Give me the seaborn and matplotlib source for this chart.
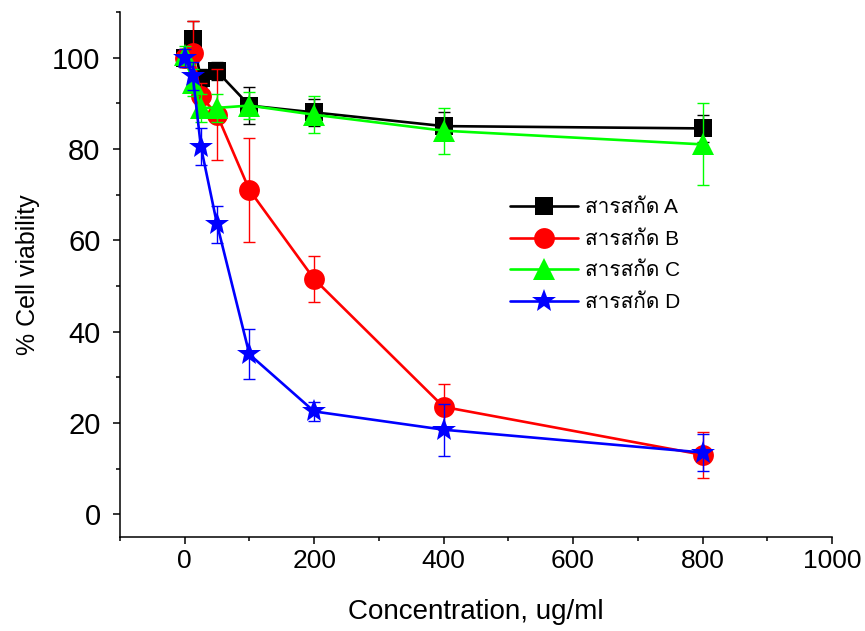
import numpy as np
import pandas as pd
import matplotlib
matplotlib.use("Agg")
import matplotlib.pyplot as plt
from matplotlib import font_manager as fm
from matplotlib.ticker import MultipleLocator
from matplotlib.ft2font import FT2Font
import seaborn as sns

# Data
conc = [0, 12.5, 25, 50, 100, 200, 400, 800]
series_names = ["สารสกัด A", "สารสกัด B", "สารสกัด C", "สารสกัด D"]
viab_a = [100, 104, 95.5, 97, 89.5, 88, 85, 84.5]
err_a = [2, 4, 2, 2, 4, 3, 3, 3]
viab_b = [100, 101, 91.5, 87.5, 71, 51.5, 23.5, 13]
err_b = [2, 7, 3, 10, 11.3, 5, 5, 5]
viab_c = [100.5, 94.5, 89, 89, 89.5, 87.5, 84, 81]
err_c = [2, 3, 3, 3, 3, 4, 5, 9]
viab_d = [100, 96, 80.5, 63.5, 35, 22.5, 18.5, 13.5]
err_d = [2, 3, 4, 4, 5.5, 2, 5.7, 4]

colors = ["#000000", "#ff0000", "#00ff00", "#0000ff"]
markers = ["s", "o", "^", "*"]
msizes = [13, 15, 16, 18]

sns.set_style("ticks")


def find_thai_font():
    # look for any installed font that actually has Thai glyphs
    for f in fm.fontManager.ttflist:
        try:
            cmap = FT2Font(f.fname).get_charmap()
        except Exception:
            continue
        if 0x0E2A in cmap and 0x0E01 in cmap:
            return f.name
    return None


thai = find_thai_font()
families = ["Liberation Sans"]
if thai:
    families.append(thai)
families.append("DejaVu Sans")
plt.rcParams["font.family"] = families
for key in ["text.color", "axes.labelcolor", "xtick.color", "ytick.color", "axes.edgecolor"]:
    plt.rcParams[key] = "black"

rows = []
for name, ys in zip(series_names, [viab_a, viab_b, viab_c, viab_d]):
    for x, y in zip(conc, ys):
        rows.append({"conc": x, "viability": y, "extract": name})
df = pd.DataFrame(rows)

fig = plt.figure(figsize=(8.65, 6.31), dpi=100)
ax = fig.add_axes([0.1387, 0.149, 0.8231, 0.832])

errs = [err_a, err_b, err_c, err_d]
ys_all = [viab_a, viab_b, viab_c, viab_d]
for i, name in enumerate(series_names):
    ax.errorbar(conc, ys_all[i], yerr=errs[i], fmt="none", ecolor=colors[i],
                elinewidth=1, capsize=4, capthick=1, zorder=2 + i)
    sub = df[df["extract"] == name]
    sns.lineplot(data=sub, x="conc", y="viability", color=colors[i],
                 marker=markers[i], markersize=msizes[i], markeredgewidth=0,
                 linewidth=1.9, label=name, ax=ax, zorder=3 + i)

ax.set_xlim(-100, 1000)
ax.set_ylim(-5, 110)
ax.xaxis.set_major_locator(MultipleLocator(200))
ax.xaxis.set_minor_locator(MultipleLocator(100))
ax.yaxis.set_major_locator(MultipleLocator(20))
ax.yaxis.set_minor_locator(MultipleLocator(10))
ax.tick_params(which="major", direction="out", length=5, width=1.1, color="black")
ax.tick_params(which="minor", direction="out", length=3, width=1.1, color="black")
ax.tick_params(axis="x", labelsize=19)
ax.tick_params(axis="y", labelsize=21, pad=9)
for side in ["top", "right"]:
    ax.spines[side].set_visible(False)
for side in ["left", "bottom"]:
    ax.spines[side].set_linewidth(1.1)
    ax.spines[side].set_color("black")

ax.set_xlabel("Concentration, ug/ml", fontsize=20, labelpad=19)
ax.set_ylabel("% Cell viability", fontsize=18, labelpad=9)

ax.legend(loc="upper left", bbox_to_anchor=(0.548, 0.645), frameon=False,
          borderaxespad=0, borderpad=0,
          fontsize=15, handlelength=3.27, handletextpad=0.3, labelspacing=0.6)

fig.savefig("out.png", dpi=100)
